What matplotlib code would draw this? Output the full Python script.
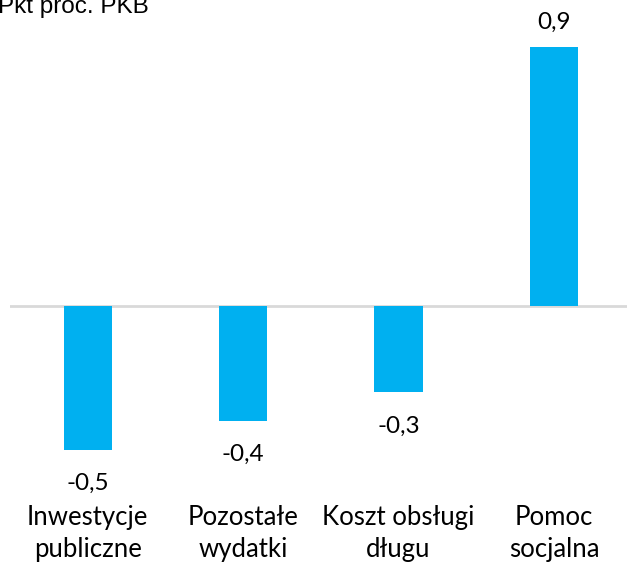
import matplotlib.pyplot as plt

# Zmiany wydatków, pkt proc. PKB
categories = [('Inwestycje', 'publiczne'), ('Pozostałe', 'wydatki'),
              ('Koszt obsługi', 'długu'), ('Pomoc', 'socjalna')]
values = [-0.5, -0.4, -0.3, 0.9]
value_labels = ['-0,5', '-0,4', '-0,3', '0,9']

fig = plt.figure(figsize=(6.27, 5.62), dpi=100)
ax = fig.add_axes([10 / 627, 0, 1 - 10 / 627, 1])

x = range(len(categories))
ax.bar(x, values, width=0.31, color='#00B0F0', zorder=2)
ax.axhline(0, color='#D9D9D9', linewidth=2, zorder=1)

ax.set_xlim(-0.5, 3.47)
ax.set_ylim(-0.889, 1.0625)
ax.axis('off')

# Value labels above/below each bar
for i, (v, lab) in enumerate(zip(values, value_labels)):
    off = 13 if v > 0 else -28.8
    ax.annotate(lab, (i, v), textcoords='offset points', xytext=(0, off),
                ha='center', va='baseline', fontsize=17.5, family='Lato')

# Category labels at the bottom (two lines each)
for i, (l1, l2) in enumerate(categories):
    ax.text(i, -0.7604, l1, ha='center', va='baseline', fontsize=18.5, family='Lato')
    ax.text(i, -0.8715, l2, ha='center', va='baseline', fontsize=18.5, family='Lato')

fig.text(-2 / 627, 1 - 13 / 562, 'Pkt proc. PKB', ha='left', va='baseline',
         fontsize=17.5, family='Liberation Sans')

fig.savefig('out.png', dpi=100)
